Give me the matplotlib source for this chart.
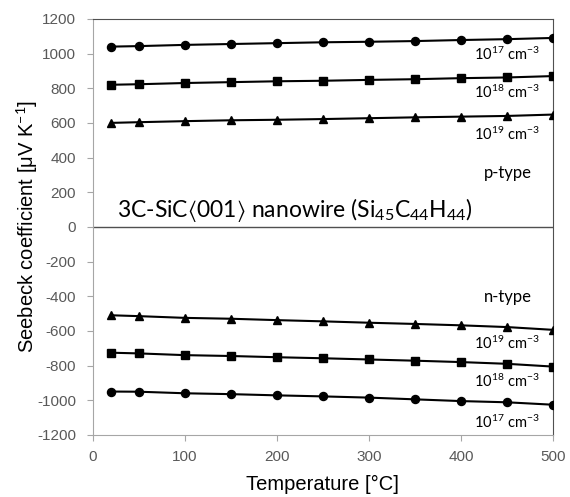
import matplotlib
matplotlib.use("Agg")
import matplotlib.pyplot as plt

plt.rcParams['font.family'] = ['Liberation Sans', 'DejaVu Sans']
plt.rcParams['mathtext.fontset'] = 'custom'
plt.rcParams['mathtext.rm'] = 'Lato'
plt.rcParams['mathtext.it'] = 'Lato:italic'
plt.rcParams['mathtext.fallback'] = 'stixsans'
plt.rcParams['axes.unicode_minus'] = False

temps = [20, 50, 100, 150, 200, 250, 300, 350, 400, 450, 500]

p17 = [1040, 1043, 1050, 1055, 1060, 1065, 1068, 1072, 1078, 1083, 1090]
p18 = [820, 823, 830, 835, 840, 843, 848, 852, 858, 862, 870]
p19 = [600, 604, 610, 615, 618, 622, 627, 632, 636, 640, 648]
n19 = [-510, -515, -525, -530, -538, -545, -553, -560, -568, -578, -594]
n18 = [-726, -730, -740, -745, -752, -758, -765, -772, -780, -790, -806]
n17 = [-950, -951, -960, -965, -972, -978, -985, -995, -1005, -1012, -1026]

labels_p = ['10$^{17}$ cm$^{-3}$', '10$^{18}$ cm$^{-3}$', '10$^{19}$ cm$^{-3}$']
labels_n = ['10$^{19}$ cm$^{-3}$', '10$^{18}$ cm$^{-3}$', '10$^{17}$ cm$^{-3}$']

fig = plt.figure(figsize=(5.70, 4.97), dpi=100)
ax = fig.add_axes([0.163, 0.125, 0.807, 0.837])

for ys, m, ms in [(p17, 'o', 5.8), (p18, 's', 5.3), (p19, '^', 6),
                  (n19, '^', 6), (n18, 's', 5.3), (n17, 'o', 5.8)]:
    ax.plot(temps, ys, color='black', lw=1.5, marker=m, ms=ms, zorder=3)

ax.axhline(0, color='#505050', lw=1)
ax.set_xlim(0, 500)
ax.set_ylim(-1200, 1200)
ax.set_xticks(range(0, 501, 100))
ax.set_yticks(range(-1200, 1201, 200))

tick_col = '#595959'
ax.tick_params(axis='both', colors='#a6a6a6', labelcolor=tick_col, labelsize=11, length=4)
ax.tick_params(axis='x', pad=7)
ax.tick_params(axis='y', pad=8)
ax.spines['left'].set_color('#a6a6a6')
ax.spines['bottom'].set_color('#a6a6a6')
ax.spines['top'].set_color('#505050')
ax.spines['right'].set_color('#505050')

ax.set_xlabel('Temperature [°C]', fontsize=14.5, labelpad=8)
ax.set_ylabel('Seebeck coefficient [μV K$^{−1}$]', fontsize=14.5, labelpad=-2)

for lab, y in zip(labels_p, [993, 775, 534]):
    ax.text(486, y, lab, fontsize=10.5, ha='right', va='center', family='Lato')
for lab, y in zip(labels_n, [-672, -891, -1129]):
    ax.text(486, y, lab, fontsize=10.5, ha='right', va='center', family='Lato')
ax.text(451, 310, 'p-type', fontsize=12, ha='center', va='center', family='Lato')
ax.text(451, -406, 'n-type', fontsize=12, ha='center', va='center', family='Lato')

ax.text(26, 98, r'3C-SiC$\langle$001$\rangle$ nanowire (Si$_{45}$C$_{44}$H$_{44}$)',
        fontsize=16.5, ha='left', va='center', family='Lato')

fig.savefig('out.png', dpi=100)
